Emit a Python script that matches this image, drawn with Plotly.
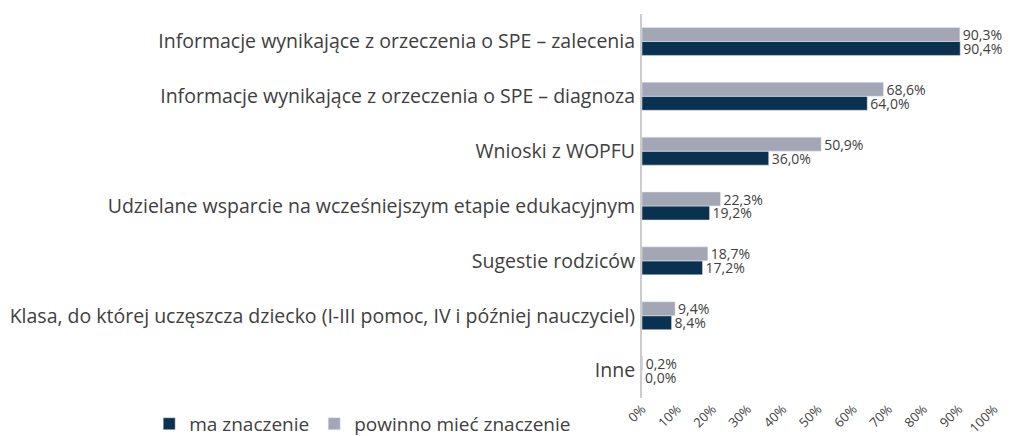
import plotly.graph_objects as go

categories = [
    "Informacje wynikające z orzeczenia o SPE – zalecenia",
    "Informacje wynikające z orzeczenia o SPE – diagnoza",
    "Wnioski z WOPFU",
    "Udzielane wsparcie na wcześniejszym etapie edukacyjnym",
    "Sugestie rodziców",
    "Klasa, do której uczęszcza dziecko (I-III pomoc, IV i później nauczyciel)",
    "Inne",
]
ma_znaczenie = [90.4, 64.0, 36.0, 19.2, 17.2, 8.4, 0.0]
powinno = [90.3, 68.6, 50.9, 22.3, 18.7, 9.4, 0.2]
tick_vals = [0, 10, 20, 30, 40, 50, 60, 70, 80, 90, 100]
tick_text = [f"{v}%" for v in tick_vals]

def fmt(v):
    return f"{v:.1f}".replace(".", ",") + "%"

font_family = "Open Sans, sans-serif"
fig = go.Figure()
fig.add_trace(go.Bar(
    y=categories, x=ma_znaczenie, orientation="h", name="ma znaczenie",
    marker_color="#0b3150", text=[fmt(v) for v in ma_znaczenie],
    textposition="outside", cliponaxis=False, constraintext="none",
    textfont=dict(size=14, color="#404040", family=font_family),
))
fig.add_trace(go.Bar(
    y=categories, x=powinno, orientation="h", name="powinno mieć znaczenie",
    marker_color="#a3a6b4", text=[fmt(v) for v in powinno],
    textposition="outside", cliponaxis=False, constraintext="none",
    textfont=dict(size=14, color="#404040", family=font_family),
))
fig.update_layout(
    width=1010, height=436,
    barmode="group", bargap=0.49, bargroupgap=0,
    plot_bgcolor="white", paper_bgcolor="white",
    margin=dict(l=642, r=16, t=14, b=38, autoexpand=False),
    font=dict(family=font_family, color="#404040"),
    showlegend=True,
    legend=dict(orientation="h", x=-1.40, y=-0.018, xanchor="left", yanchor="top",
                font=dict(size=19, color="#404040"), traceorder="normal",
                itemwidth=30),
)
fig.update_xaxes(range=[0, 100], tickvals=tick_vals, ticktext=tick_text,
                 tickangle=-45, showgrid=False, zeroline=False, showline=False,
                 automargin=False,
                 tickfont=dict(size=13, color="#404040"), fixedrange=True)
fig.update_yaxes(categoryorder="array", categoryarray=categories[::-1],
                 showline=True, linecolor="#cccccc", linewidth=2,
                 showgrid=False, ticks="", ticklabelstandoff=1, automargin=False,
                 tickfont=dict(size=19.5, color="#404040"))
fig.write_html("out.html", config={"displayModeBar": False},
               post_script="document.body.style.margin='0';document.body.style.overflow='hidden';")
